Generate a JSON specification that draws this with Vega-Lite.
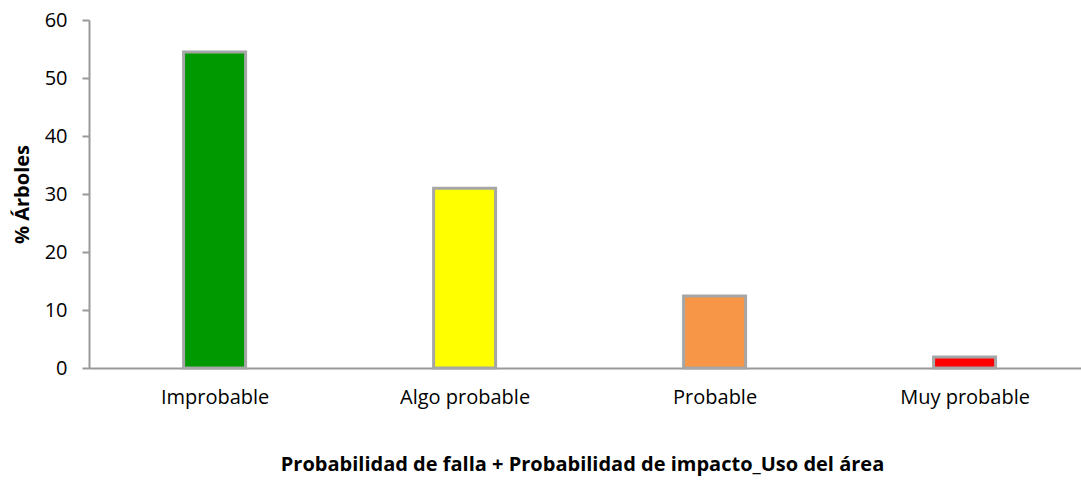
{
  "$schema": "https://vega.github.io/schema/vega-lite/v6.json",
  "autosize": {"type": "none"},
  "padding": {"left": 89, "top": 20, "right": 0, "bottom": 121},
  "width": 992,
  "height": 348,
  "background": "white",
  "config": {
    "view": {"stroke": null},
    "font": "Open Sans"
  },
  "data": {
    "values": [
      {"categoria": "Improbable", "porcentaje": 54.5, "color": "#009900"},
      {"categoria": "Algo probable", "porcentaje": 31.0, "color": "#ffff00"},
      {"categoria": "Probable", "porcentaje": 12.4, "color": "#f79646"},
      {"categoria": "Muy probable", "porcentaje": 1.9, "color": "#ff0000"}
    ]
  },
  "mark": {"type": "bar", "size": 62, "stroke": "#a6a6a6", "strokeWidth": 3},
  "encoding": {
    "x": {
      "field": "categoria",
      "type": "nominal",
      "sort": null,
      "scale": {"type": "point", "padding": 0.484, "align": 0.519},
      "axis": {
        "title": "Probabilidad de falla + Probabilidad de impacto_Uso del área",
        "titleFontSize": 20,
        "titleFontWeight": "bold",
        "titleColor": "#000000",
        "titlePadding": 47,
        "titleX": 493,
        "labelFontSize": 20,
        "labelColor": "#000000",
        "labelAngle": 0,
        "labelPadding": 19,
        "ticks": false,
        "domainColor": "#999999",
        "domainWidth": 2
      }
    },
    "y": {
      "field": "porcentaje",
      "type": "quantitative",
      "scale": {"domain": [0, 60], "nice": false},
      "axis": {
        "title": "% Árboles",
        "titleFontSize": 20,
        "titleFontWeight": "bold",
        "titleColor": "#000000",
        "titlePadding": 12,
        "values": [0, 10, 20, 30, 40, 50, 60],
        "labelFontSize": 20,
        "labelColor": "#000000",
        "labelPadding": 15,
        "tickSize": 7,
        "tickColor": "#999999",
        "tickWidth": 2,
        "domainColor": "#999999",
        "domainWidth": 2,
        "grid": false
      }
    },
    "fill": {"field": "color", "type": "nominal", "scale": null}
  }
}
